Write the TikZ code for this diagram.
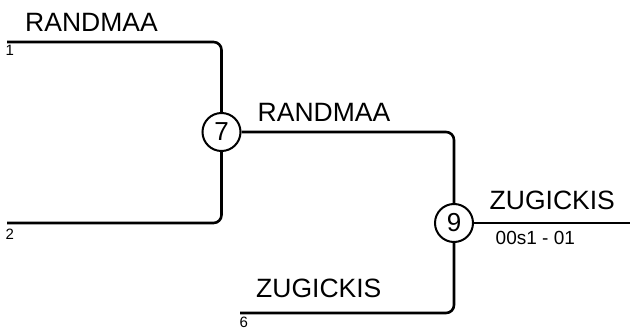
\documentclass[tikz,border=0pt]{standalone}
\usepackage{fontspec}
\setmainfont{Liberation Sans}
\begin{document}
\begin{tikzpicture}[x=1pt,y=-1pt,
  wire/.style={line width=2.6pt,rounded corners=8pt},
  seed/.style={circle,draw,line width=2pt,minimum size=38pt,inner sep=0pt,fill=white,font=\fontsize{26}{26}\selectfont},
  big/.style={anchor=base west,inner sep=0pt,font=\fontsize{26.5}{26.5}\selectfont},
  small/.style={anchor=base west,inner sep=0pt,font=\fontsize{15}{15}\selectfont},
  mid/.style={anchor=base west,inner sep=0pt,font=\fontsize{19}{19}\selectfont}]
\useasboundingbox (0,0) rectangle (630,329);
\coordinate (a1) at (7,42);
\coordinate (a2) at (7,223);
\coordinate (a6) at (240,313);
\coordinate (out) at (630,223);
\node[seed] (c7) at (221.5,132) {7};
\node[seed] (c9) at (454,223) {9};
\draw[wire] (a1) -| (c7);
\draw[wire] (a2) -| (c7);
\draw[wire] (c7) -| (c9);
\draw[wire] (a6) -| (c9);
\draw[wire] (c9) -- (out);
\node[big] (t1) at (25,31.5) {RANDMAA};
\node[small] (n1) at (5.5,56) {1};
\node[small] (n2) at (5.5,239) {2};
\node[big] (t7) at (257.5,121.5) {RANDMAA};
\node[big] (t9) at (489.5,209.5) {ZUGICKIS};
\node[mid] (s9) at (495.5,244) {00s1 - 01};
\node[big] (t6) at (256,297.5) {ZUGICKIS};
\node[small] (n6) at (239.5,327) {6};
\end{tikzpicture}
\end{document}
